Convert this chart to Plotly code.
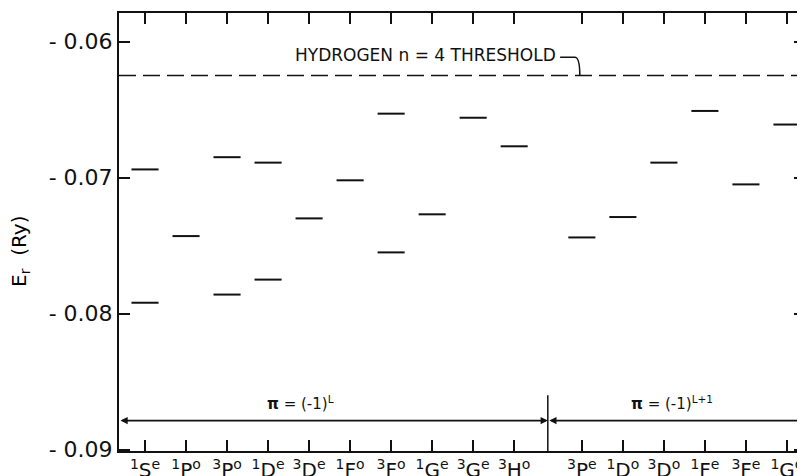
import plotly.graph_objects as go

# ---- data ----
left_terms = ["<sup>1</sup>S<sup>e</sup>", "<sup>1</sup>P<sup>o</sup>", "<sup>3</sup>P<sup>o</sup>",
              "<sup>1</sup>D<sup>e</sup>", "<sup>3</sup>D<sup>e</sup>", "<sup>1</sup>F<sup>o</sup>",
              "<sup>3</sup>F<sup>o</sup>", "<sup>1</sup>G<sup>e</sup>", "<sup>3</sup>G<sup>e</sup>",
              "<sup>3</sup>H<sup>o</sup>"]
left_upper = [-0.0694, -0.0743, -0.0685, -0.0689, -0.0730, -0.0702, -0.0653, -0.0727, -0.0656, -0.0677]
left_lower = [-0.0792, None, -0.0786, -0.0775, None, None, -0.0755, None, None, None]

right_terms = ["<sup>3</sup>P<sup>e</sup>", "<sup>1</sup>D<sup>o</sup>", "<sup>3</sup>D<sup>o</sup>",
               "<sup>1</sup>F<sup>e</sup>", "<sup>3</sup>F<sup>e</sup>", "<sup>1</sup>G<sup>o</sup>"]
right_levels = [-0.0744, -0.0729, -0.0689, -0.0651, -0.0705, -0.0661]

threshold = -0.0625
y_ticks = [-0.06, -0.07, -0.08, -0.09]
y_ticktext = ["- 0.06", "- 0.07", "- 0.08", "- 0.09"]

# ---- layout helpers ----
left_x = list(range(len(left_terms)))
right_x = [10.65 + j for j in range(len(right_terms))]
sep_x = 9.82
x_min, x_max = -0.634, 16.09
y_min, y_max = -0.0901, -0.0579
half = 0.33
arrow_y = -0.08786
sep_top = -0.0860

xs, ys = [], []
for xc, v1, v2 in zip(left_x, left_upper, left_lower):
    for v in (v1, v2):
        if v is not None:
            xs += [xc - half, xc + half, None]
            ys += [v, v, None]
for xc, v in zip(right_x, right_levels):
    xs += [xc - half, xc + half, None]
    ys += [v, v, None]

FONT = "DejaVu Sans"
fig = go.Figure()
fig.add_trace(go.Scatter(x=xs, y=ys, mode="lines", line=dict(color="#111", width=2),
                         hoverinfo="skip", showlegend=False))
# threshold
fig.add_trace(go.Scatter(x=[x_min, x_max], y=[threshold, threshold], mode="lines",
                         line=dict(color="#111", width=1.6, dash="17px,7px"),
                         hoverinfo="skip", showlegend=False))
# separator
fig.add_trace(go.Scatter(x=[sep_x, sep_x], y=[sep_top, y_min], mode="lines",
                         line=dict(color="#111", width=1.5), hoverinfo="skip", showlegend=False))
# invisible trace for right-hand ticks
fig.add_trace(go.Scatter(x=[x_min], y=[y_min], yaxis="y2", mode="markers",
                         marker=dict(opacity=0), hoverinfo="skip", showlegend=False))

# parity arrows
for a, b in ((x_min, sep_x), (sep_x, x_max)):
    fig.add_annotation(x=b, y=arrow_y, ax=a, ay=arrow_y, xref="x", yref="y", axref="x", ayref="y",
                       text="", showarrow=True, arrowhead=2, arrowside="end+start",
                       arrowsize=0.8, arrowwidth=1.8, arrowcolor="#111")

fig.add_annotation(x=3.78, y=arrow_y, yshift=18, text="<b>π</b> = (-1)<sup>L</sup>",
                   showarrow=False, font=dict(family=FONT, size=15, color="#111"))
fig.add_annotation(x=12.85, y=arrow_y, yshift=18, text="<b>π</b> = (-1)<sup>L+1</sup>",
                   showarrow=False, font=dict(family=FONT, size=15, color="#111"))

fig.add_annotation(x=10.08, y=-0.0610, xanchor="right", text="HYDROGEN n = 4 THRESHOLD",
                   showarrow=False, font=dict(family=FONT, size=17, color="#111"))
fig.add_shape(type="path", xref="x", yref="y",
              path="M 10.12,-0.06115 L 10.48,-0.06115 Q 10.60,-0.06115 10.60,-0.0625",
              line=dict(color="#111", width=1.5))

fig.add_annotation(xref="paper", yref="y", x=-0.1445, xanchor="center", yanchor="middle",
                   y=-0.0754, text="E<sub>r</sub>  (Ry)",
                   textangle=-90, showarrow=False, font=dict(family=FONT, size=20, color="#000"))

tick_vals = left_x + right_x
tick_text = left_terms + right_terms

# the page body adds an 8px margin, so the figure is 8px smaller and its margins shifted
fig.update_layout(
    width=797, height=468,
    margin=dict(l=111, r=0, t=5, b=25),
    paper_bgcolor="white", plot_bgcolor="white",
    xaxis=dict(range=[x_min, x_max], tickvals=tick_vals, ticktext=tick_text,
               ticks="inside", ticklen=11, tickwidth=1.8, tickcolor="#111",
               showline=True, linewidth=2, linecolor="#111", mirror="ticks",
               showgrid=False, zeroline=False, automargin=False,
               tickfont=dict(family=FONT, size=20, color="#111")),
    yaxis=dict(range=[y_min, y_max], tickvals=y_ticks, ticktext=y_ticktext,
               ticks="inside", ticklen=11, tickwidth=1.8, tickcolor="#111",
               showline=True, linewidth=2, linecolor="#111",
               showgrid=False, zeroline=False, automargin=False,
               tickfont=dict(family=FONT, size=22, color="#111")),
    yaxis2=dict(range=[y_min, y_max], overlaying="y", side="right", tickvals=y_ticks,
                ticks="inside", ticklen=11, tickwidth=1.8, tickcolor="#111",
                showticklabels=False, showline=False, showgrid=False, zeroline=False),
)

fig.write_html("out.html")
